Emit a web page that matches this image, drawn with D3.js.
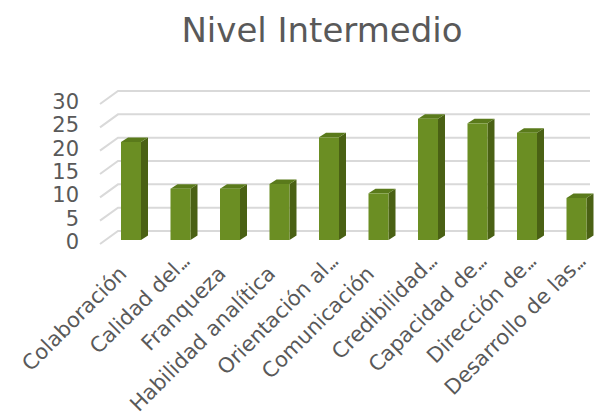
<!DOCTYPE html>
<html>
<head>
<meta charset="utf-8">
<script src="https://cdn.jsdelivr.net/npm/d3@7"></script>
<style>
  body { margin: 0; background: #fff; }
  text { font-family: "DejaVu Sans", sans-serif; fill: #595959; }
</style>
</head>
<body>
<div id="chart"></div>
<script>
//Chart data
var categories=["Colaboración","Calidad del…","Franqueza","Habilidad analítica","Orientación al…","Comunicación","Credibilidad…","Capacidad de…","Dirección de…","Desarrollo de las…"];
var values=[21,11,11,12,22,10,26,25,23,9];
var yTicks=[0,5,10,15,20,25,30];

//Dimensions
var w=595;
var h=417;
var depthX=18, depthY=13;   //wall depth offset
var sideX=7, sideY=4.5;     //bar side offset

var svg=d3.select("#chart")
          .append("svg")
          .attr("width",w)
          .attr("height",h);

//Scales
var x=d3.scaleBand()
        .domain(categories)
        .range([91.5,616])
        .padding(0.596);
var y=d3.scaleLinear()
        .domain([0,30])
        .range([240,100]);

//Title
svg.append("text")
   .text("Nivel Intermedio")
   .attr("x",322)
   .attr("y",42)
   .attr("text-anchor","middle")
   .style("font-size","34px");

//Gridlines: diagonal on the side wall, then along the back wall
svg.append("g")
   .selectAll("path")
   .data(yTicks)
   .enter()
   .append("path")
   .attr("d",function(d) {
       var yb=y(d)-9;
       return "M100,"+(yb+depthY)+"L"+(100+depthX)+","+yb+"L590,"+yb;
   })
   .attr("fill","none")
   .attr("stroke","#d9d9d9")
   .attr("stroke-width",2);

//Y axis labels
svg.append("g")
   .selectAll("text")
   .data(yTicks)
   .enter()
   .append("text")
   .text(function(d) {return d;})
   .attr("x",79)
   .attr("y",function(d) {return y(d)+2;})
   .attr("text-anchor","end")
   .attr("dominant-baseline","central")
   .style("font-size","21px");

//Bars
var bars=svg.append("g")
            .selectAll("g")
            .data(values)
            .enter()
            .append("g");
var bw=x.bandwidth();
//side face
bars.append("path")
    .attr("d",function(d,i) {
        var x0=x(categories[i])+bw, yt=y(d), yb=y(0);
        return "M"+x0+","+yt+"L"+(x0+sideX)+","+(yt-sideY)+"L"+(x0+sideX)+","+(yb-sideY)+"L"+x0+","+yb+"Z";
    })
    .attr("fill","#4a6114");
//top face
bars.append("path")
    .attr("d",function(d,i) {
        var x0=x(categories[i]), yt=y(d);
        return "M"+x0+","+yt+"L"+(x0+sideX)+","+(yt-sideY)+"L"+(x0+bw+sideX)+","+(yt-sideY)+"L"+(x0+bw)+","+yt+"Z";
    })
    .attr("fill","#5a7a1b");
//front face
bars.append("rect")
    .attr("x",function(d,i) {return x(categories[i]);})
    .attr("y",function(d) {return y(d);})
    .attr("width",bw)
    .attr("height",function(d) {return y(0)-y(d);})
    .attr("fill","#6b8e23");

//Category labels, rotated; truncated ones get a compact ellipsis
var labels=svg.append("g")
   .selectAll("text")
   .data(categories)
   .enter()
   .append("text")
   .attr("text-anchor","end")
   .attr("transform",function(d) {
       var cx=x(d)+bw/2;
       if (d.indexOf("…")>=0) {return "translate("+(cx+9)+",264) rotate(-45)";}
       return "translate("+(cx-3)+",275) rotate(-45)";
   })
   .style("font-size","21px");
labels.append("tspan")
      .text(function(d) {return d.replace("…","");});
labels.filter(function(d) {return d.indexOf("…")>=0;})
      .append("tspan")
      .text("...")
      .style("letter-spacing","-3px");
</script>
</body>
</html>
